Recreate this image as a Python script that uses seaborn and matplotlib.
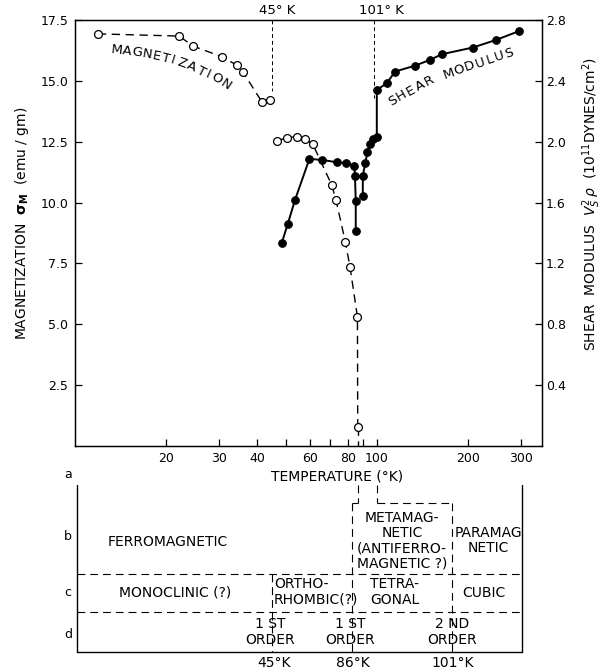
import numpy as np
import pandas as pd
import matplotlib
matplotlib.use("Agg")
import matplotlib.pyplot as plt
import seaborn as sns
from matplotlib.ticker import FixedLocator, FixedFormatter, NullLocator

# ---------------- data ----------------
# magnetization, open circles (emu/gm)
mag_low_T = [11.9, 22.1, 24.6, 30.6, 34.3, 35.9, 41.5, 44.2]
mag_low_val = [16.93, 16.84, 16.43, 15.99, 15.65, 15.38, 14.15, 14.22]
mag_high_T = [46.8, 50.5, 54.2, 57.6, 61.2, 70.8, 73.1, 78.5, 81.4, 86.1, 86.3]
mag_high_val = [12.54, 12.67, 12.71, 12.60, 12.41, 10.72, 10.11, 8.39, 7.34, 5.31, 0.79]

# shear modulus, filled circles (10^11 dynes/cm^2)
shear_a_T = [48.4, 50.6, 53.5, 59.7, 65.9, 73.6, 78.8, 84.1, 84.5, 85.0, 85.0]
shear_a_val = [1.337, 1.458, 1.617, 1.887, 1.880, 1.865, 1.859, 1.841, 1.776, 1.610, 1.411]
shear_b_T = [89.7, 89.7, 91.5, 92.9, 94.8, 97.2, 99.8, 99.8, 107.7, 114.7, 133.6,
             149.8, 163.8, 207.5, 247.7, 296.0]
shear_b_val = [1.644, 1.777, 1.863, 1.931, 1.985, 2.016, 2.029, 2.340, 2.385, 2.461,
               2.500, 2.538, 2.575, 2.619, 2.669, 2.728]

# transitions marked at the top of the plot
transition_T = [44.8, 97.6]
transition_labels = ["45° K", "101° K"]

# axis ticks
x_ticks = [20, 30, 40, 50, 60, 70, 80, 90, 100, 200, 300]
x_tick_labels = ["20", "30", "40", "", "60", "", "80", "", "100", "200", "300"]
left_ticks = [2.5, 5.0, 7.5, 10.0, 12.5, 15.0, 17.5]
right_ticks = [0.4, 0.8, 1.2, 1.6, 2.0, 2.4, 2.8]

# phase table
row_labels = ["a", "b", "c", "d"]
table_bottom_labels = ["45°K", "86°K", "101°K"]

# ---------------- build frames ----------------
mag_df = pd.DataFrame({
    "T": mag_low_T + mag_high_T,
    "val": mag_low_val + mag_high_val,
    "branch": ["low"] * len(mag_low_T) + ["high"] * len(mag_high_T),
})
mag_line_df = pd.concat([mag_df[mag_df.branch == "low"].iloc[:-1],
                         mag_df[mag_df.branch == "high"]])
shear_df = pd.DataFrame({
    "T": shear_a_T + shear_b_T,
    "val": shear_a_val + shear_b_val,
    "branch": ["a"] * len(shear_a_T) + ["b"] * len(shear_b_T),
})

# ---------------- style ----------------
sns.set_style("ticks", {"xtick.direction": "in", "ytick.direction": "in",
                        "axes.edgecolor": "black", "axes.linewidth": 1.0})
plt.rcParams["font.family"] = ["DejaVu Sans"]
plt.rcParams["mathtext.fontset"] = "dejavusans"
plt.rcParams["text.color"] = "black"
plt.rcParams["axes.labelcolor"] = "black"
plt.rcParams["xtick.color"] = "black"
plt.rcParams["ytick.color"] = "black"

W, H = 603, 671
fig = plt.figure(figsize=(W / 100, H / 100), dpi=100)
L, R, T_, B = 75, 542, 20, 446
ax = fig.add_axes([L / W, 1 - B / H, (R - L) / W, (B - T_) / H])
ax.set_xscale("log")
ax.set_xlim(10, 351.6)
ax.set_ylim(0, 17.5)
ax2 = ax.twinx()
ax2.set_ylim(0, 2.8)

# magnetization: dashed line + open circles
sns.lineplot(data=mag_line_df, x="T", y="val", units="branch", estimator=None,
             sort=False, ax=ax, color="black", lw=1.0, linestyle=(0, (6, 4)),
             legend=False)
last_T, last_v = mag_high_T[-1], mag_high_val[-1]
ax.plot([last_T, last_T], [last_v, 0], color="black", lw=1.0, linestyle=(0, (6, 4)))
sns.scatterplot(data=mag_df, x="T", y="val", ax=ax, s=32, facecolor="white",
                edgecolor="black", linewidth=0.9, zorder=4, legend=False)

# shear modulus: solid line + filled circles
sns.lineplot(data=shear_df, x="T", y="val", units="branch", estimator=None,
             sort=False, ax=ax2, color="black", lw=1.4, marker="o",
             markersize=5.5, markerfacecolor="black", markeredgecolor="black",
             legend=False)

# transition lines at the top
for tt, top_v in zip(transition_T, [14.6, 14.3]):
    ax.plot([tt, tt], [17.5, top_v], color="black", lw=0.7, linestyle=(0, (4, 3)))

# axes formatting
ax.xaxis.set_major_locator(FixedLocator(x_ticks))
ax.xaxis.set_major_formatter(FixedFormatter(x_tick_labels))
ax.xaxis.set_minor_locator(NullLocator())
ax.set_yticks(left_ticks)
ax.set_yticklabels([f"{v:.1f}" for v in left_ticks])
ax2.set_yticks(right_ticks)
ax2.set_yticklabels([f"{v:.1f}" for v in right_ticks])
for a in (ax, ax2):
    a.tick_params(axis="both", direction="in", length=5, width=0.9,
                  labelsize=9, pad=4, colors="black")
    a.set_xlabel("")
    a.set_ylabel("")
ax.tick_params(axis="y", pad=5)
ax2.tick_params(axis="y", pad=3)
for s in ax.spines.values():
    s.set_visible(True)
    s.set_linewidth(1.0)
    s.set_color("black")

# ---------------- overlay in pixel coordinates ----------------
ov = fig.add_axes([0, 0, 1, 1], zorder=10)
ov.set_xlim(0, W)
ov.set_ylim(H, 0)
ov.axis("off")
ov.patch.set_alpha(0)

ov.text(22, 223, r"MAGNETIZATION  $\mathbf{\sigma_{M}}$  (emu / gm)", rotation=90,
        ha="center", va="center", fontsize=10)
ov.text(592, 204, r"SHEAR  MODULUS  $V_S^2\,\rho$  ($10^{11}$DYNES/cm$^2$)",
        rotation=90, ha="center", va="center", fontsize=10)
for lab, x in zip(transition_labels, [277, 381]):
    ov.text(x, 10, lab, ha="center", va="center", fontsize=9.5)


def curved(text, pts, fs=9.5):
    pts = np.asarray(pts, float)
    n = len(pts)
    for i, ch in enumerate(text):
        a = pts[max(i - 1, 0)]
        b = pts[min(i + 1, n - 1)]
        ang = np.degrees(np.arctan2(-(b[1] - a[1]), b[0] - a[0]))
        ov.text(pts[i][0], pts[i][1], ch, rotation=ang, ha="center", va="center",
                rotation_mode="anchor", fontsize=fs)


curved("MAGNETIZATION", [(116.7, 50), (126.7, 51), (136.7, 52.7), (146.7, 54.3),
                         (156.7, 56), (166, 58.3), (173, 60), (181.7, 63.3),
                         (191.7, 66.7), (201, 71.7), (208, 75), (216.7, 78.8),
                         (226, 85)])
curved("SHEAR", [(393.3, 100.5), (401.7, 95.5), (410.5, 90.5), (420, 85.5), (429.5, 80.5)])
curved("MODULUS", [(449, 73.5), (459, 70), (469.5, 66.5), (480, 63), (490, 59.5),
                   (499.5, 56.5), (508.5, 53.5)])

# x-axis title and table
ov.text(337, 476, "TEMPERATURE (°K)", ha="center", va="center", fontsize=10)
for lab, y in zip(row_labels, [475, 537, 593, 635]):
    ov.text(68, y, lab, ha="center", va="center", fontsize=9)

solid = dict(color="black", lw=1.0)
dash = dict(color="black", lw=0.8, linestyle=(0, (7, 4.5)))
ov.plot([77, 77], [485, 652], **solid)
ov.plot([522, 522], [485, 652], **solid)
ov.plot([77, 522], [652, 652], **solid)
ov.plot([77, 522], [574, 574], **dash)
ov.plot([77, 522], [612, 612], **dash)
ov.plot([272, 272], [574, 652], **dash)
ov.plot([352, 352], [503, 652], **dash)
ov.plot([452, 452], [503, 652], **dash)
ov.plot([352, 358], [503, 503], **dash)
ov.plot([377, 452], [503, 503], **dash)
ov.plot([358, 358], [485, 503], **dash)
ov.plot([377, 377], [485, 503], **dash)

fs_t = 10
ls = 1.1
ov.text(168, 542, "FERROMAGNETIC", ha="center", va="center", fontsize=fs_t)
ov.text(402, 540.5, "METAMAG-\nNETIC\n(ANTIFERRO-\nMAGNETIC ?)", ha="center",
        va="center", fontsize=fs_t, linespacing=ls, multialignment="center")
ov.text(488, 540.5, "PARAMAG\nNETIC", ha="center", va="center", fontsize=fs_t,
        linespacing=ls, multialignment="center")
ov.text(175, 593, "MONOCLINIC (?)", ha="center", va="center", fontsize=fs_t)
ov.text(274, 592, "ORTHO-\nRHOMBIC(?)", ha="left", va="center", fontsize=fs_t,
        linespacing=ls, multialignment="left")
ov.text(394.5, 592, "TETRA-\nGONAL", ha="center", va="center", fontsize=fs_t,
        linespacing=ls, multialignment="center")
ov.text(484, 593, "CUBIC", ha="center", va="center", fontsize=fs_t)
for x, first in zip([270, 350, 452], ["1 ST", "1 ST", "2 ND"]):
    ov.text(x, 632, first + "\nORDER", ha="center", va="center", fontsize=fs_t,
            linespacing=ls, multialignment="center")
for x, lab in zip([274, 353, 453], table_bottom_labels):
    ov.text(x, 663, lab, ha="center", va="center", fontsize=fs_t)

fig.savefig("out.png", dpi=100)
